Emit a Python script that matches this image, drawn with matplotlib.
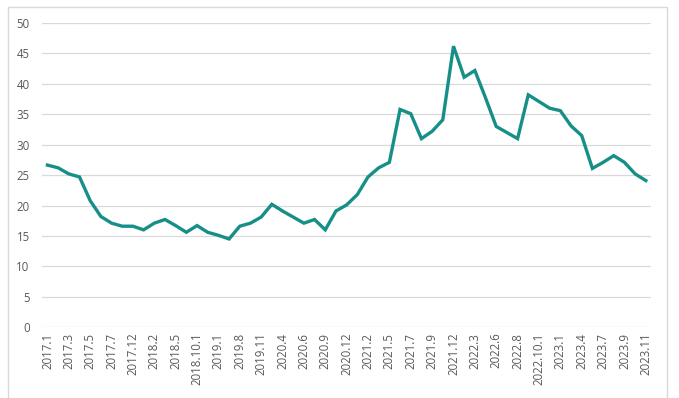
import matplotlib
matplotlib.use('Agg')
import matplotlib.pyplot as plt
from matplotlib.patches import Rectangle

plt.rcParams['font.family'] = ['Open Sans', 'DejaVu Sans']

# 数据
dates = ['2017.1', '2017.2', '2017.3', '2017.4', '2017.5', '2017.6', '2017.7', '2017.9',
         '2017.12', '2018.1', '2018.2', '2018.3', '2018.5', '2018.7', '2018.10.1', '2018.12',
         '2019.1', '2019.5', '2019.8', '2019.10', '2019.11', '2020.1', '2020.4', '2020.5',
         '2020.6', '2020.8', '2020.9', '2020.11', '2020.12', '2021.1', '2021.2', '2021.4',
         '2021.5', '2021.6', '2021.7', '2021.8', '2021.9', '2021.11', '2021.12', '2022.1',
         '2022.3', '2022.4', '2022.6', '2022.7', '2022.8', '2022.9', '2022.10.1', '2022.12',
         '2023.1', '2023.3', '2023.4', '2023.6', '2023.7', '2023.8', '2023.9', '2023.10',
         '2023.11']
values = [26.65, 26.2, 25.2, 24.7, 20.8, 18.2, 17.1, 16.6, 16.6, 16.0,
          17.1, 17.7, 16.7, 15.6, 16.7, 15.6, 15.1, 14.5, 16.6, 17.1,
          18.1, 20.2, 19.1, 18.1, 17.1, 17.7, 16.0, 19.1, 20.1, 21.8,
          24.7, 26.2, 27.1, 35.8, 35.1, 31.0, 32.2, 34.1, 46.2, 41.1,
          42.2, 37.7, 33.0, 32.0, 31.0, 38.2, 37.1, 36.0, 35.6, 33.1,
          31.5, 26.1, 27.1, 28.2, 27.1, 25.2, 24.1]
yticks = [0, 5, 10, 15, 20, 25, 30, 35, 40, 45, 50]

fig = plt.figure(figsize=(6.79, 3.98), dpi=100)
ax = fig.add_axes([0.062, 0.178, 0.897, 0.764])

# 外边框
fig.patches.append(Rectangle((8 / 679, -0.02), 659 / 679, 1 - 7 / 398 + 0.02,
                             transform=fig.transFigure, fill=False,
                             edgecolor='#d9d9d9', linewidth=1.0))

x = list(range(len(dates)))
ax.plot(x, values, color='#168f88', linewidth=2.4, solid_joinstyle='miter')

ax.set_xlim(-0.5, len(dates) - 0.5)
ax.set_ylim(0, 50)
ax.set_yticks(yticks)
ax.set_xticks(x[::2])
ax.set_xticklabels(dates[::2], rotation=90)
ax.tick_params(axis='both', length=0, labelsize=8.3, labelcolor='#595959')
ax.tick_params(axis='x', pad=4)
ax.tick_params(axis='y', pad=9)
ax.grid(axis='y', color='#d9d9d9', linewidth=0.9)
ax.set_axisbelow(True)
for s in ax.spines.values():
    s.set_visible(False)

plt.savefig('out.png', dpi=100)
